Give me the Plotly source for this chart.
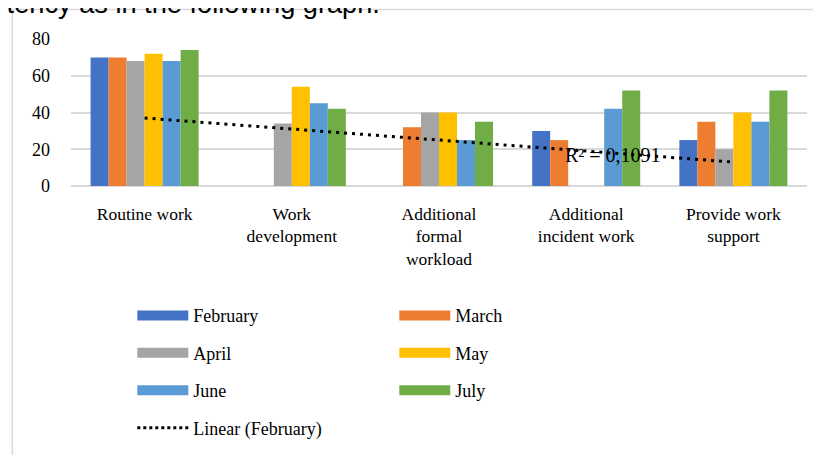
import numpy as np
import plotly.graph_objects as go

# categories (tick labels carry the line breaks seen in the chart)
categories = ["Routine work", "Work<br>development", "Additional<br>formal<br>workload",
              "Additional<br>incident work", "Provide work<br>support"]

months = ["February", "March", "April", "May", "June", "July"]
february = [70, 0, 0, 30, 25]
march = [70, 0, 32, 25, 35]
april = [68, 34, 40, 0, 20]
may = [72, 54, 40, 0, 40]
june = [68, 45, 25, 42, 35]
july = [74, 42, 35, 52, 52]
series = [february, march, april, may, june, july]

colors = ["#4472C4", "#ED7D31", "#A5A5A5", "#FFC000", "#5B9BD5", "#70AD47"]

# linear trend of February, like Excel's trendline
xs = np.arange(1, len(february) + 1)
slope, intercept = np.polyfit(xs, february, 1)
trend = slope * xs + intercept
r2 = 1 - np.sum((np.array(february) - trend) ** 2) / np.sum((np.array(february) - np.mean(february)) ** 2)

# page body has an 8px margin, so the figure is a bit smaller than the window
OFF = 8
W, H = 821 - OFF, 455 - OFF
L, T = 70.7 - OFF, 39.3 - OFF
R, B = W - (806.7 - OFF), H - (185.7 - OFF)
pw, ph = W - L - R, H - T - B


def px(x):  # window pixel -> paper x
    return (x - OFF - L) / pw


def py(y):  # window pixel -> paper y
    return (H - B - (y - OFF)) / ph


font = "Liberation Serif"
fig = go.Figure()

for name, vals, col in zip(months, series, colors):
    fig.add_trace(go.Bar(x=categories, y=vals, name=name, marker_color=col,
                         marker_line_width=0, showlegend=False))

fig.add_trace(go.Scatter(x=categories, y=trend, mode="lines", showlegend=False,
                         line=dict(color="black", width=3, dash="3px,5px")))

# legend entries (wide swatches like the original)
legend_of = {"February": "legend", "April": "legend", "June": "legend",
             "March": "legend2", "May": "legend2", "July": "legend2"}
for name, col in zip(months, colors):
    fig.add_trace(go.Scatter(x=[None], y=[None], mode="lines", name=name,
                             line=dict(color=col, width=12), legend=legend_of[name],
                             legendgroup=name))
fig.add_trace(go.Scatter(x=[None], y=[None], mode="lines", name="Linear (February)",
                         line=dict(color="black", width=3, dash="3px,3px"),
                         legend="legend", legendgroup="trend"))

leg = dict(font=dict(family=font, size=18, color="black"), bgcolor="rgba(0,0,0,0)",
           tracegroupgap=11, itemwidth=51, yanchor="top", xanchor="left")

fig.add_annotation(x=3.18, y=16.8, xref="x", yref="y", showarrow=False,
                   text="R² = " + f"{r2:.4f}".replace(".", ","),
                   font=dict(family=font, size=20, color="black"))

fig.add_annotation(x=px(382), y=py(21.5), xref="paper", yref="paper", showarrow=False,
                   xanchor="right", yanchor="bottom",
                   text="competency as in the following graph.",
                   font=dict(family="Liberation Sans", size=27.2, color="black"))

fig.add_shape(type="rect", xref="paper", yref="paper", x0=px(12), y0=py(470),
              x1=px(840), y1=py(10), line=dict(color="#d9d9d9", width=1.5),
              layer="below")

fig.update_layout(
    width=W, height=H,
    margin=dict(l=L, r=R, t=T, b=B, autoexpand=False),
    paper_bgcolor="white", plot_bgcolor="white",
    barmode="group", bargap=0.266, bargroupgap=0,
    font=dict(family=font, size=17, color="black"),
    legend=dict(leg, x=px(132), y=py(296.5)),
    legend2=dict(leg, x=px(394), y=py(296.5)),
)
fig.update_xaxes(showgrid=False, showline=False, ticks="", ticklabelstandoff=15,
                 automargin=False, tickfont=dict(family=font, size=17.5))
fig.update_yaxes(range=[0, 80], dtick=20, showgrid=True, gridcolor="#d9d9d9",
                 gridwidth=1.5, zeroline=True, zerolinecolor="#d9d9d9", zerolinewidth=1.5,
                 automargin=False, ticks="", ticklabelstandoff=20,
                 tickfont=dict(family=font, size=18))

fig.write_html("out.html")
